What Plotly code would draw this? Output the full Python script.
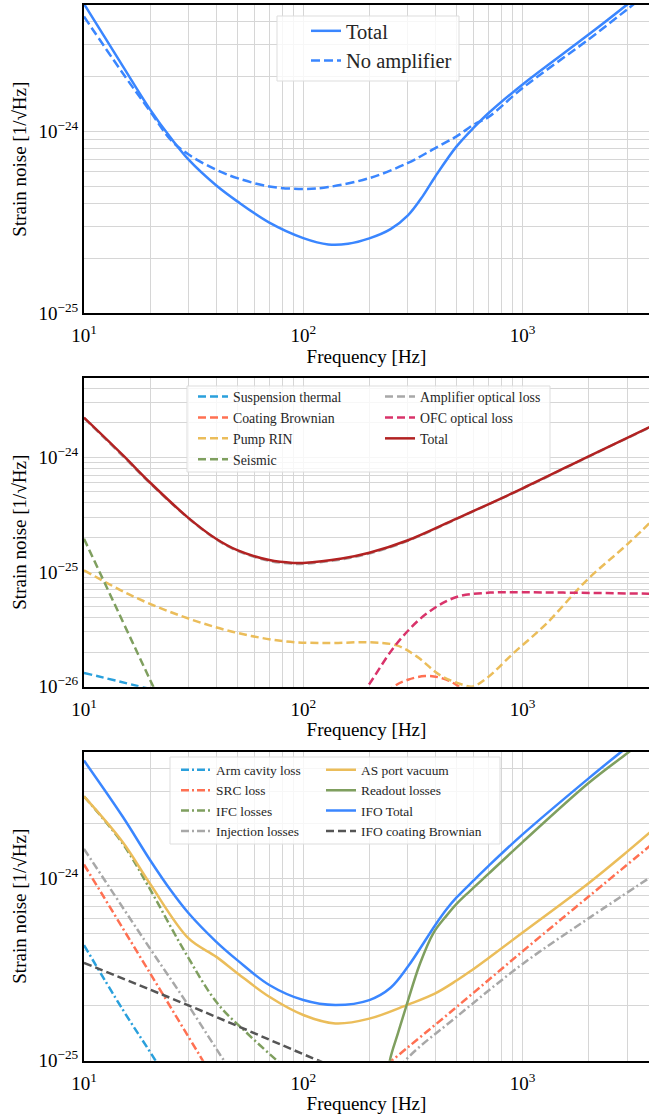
import plotly.graph_objects as go

FONT = "Liberation Serif, DejaVu Serif, Noto Serif, serif"

# ---------------- Panel 1 ----------------
p1_f_total = [10, 15, 20, 25, 30, 40, 50, 70, 100, 130, 160, 200, 250, 300, 350, 400, 500, 600, 700, 1000, 2000, 3000, 4000]
p1_total = [5.01e-24, 2.29e-24, 1.32e-24, 9.12e-25, 6.98e-25, 5.05e-25, 4.12e-25, 3.15e-25, 2.59e-25, 2.39e-25,
            2.41e-25, 2.58e-25, 2.90e-25, 3.45e-25, 4.39e-25, 5.65e-25, 8.26e-25, 1.05e-24, 1.26e-24, 1.81e-24,
            3.40e-24, 4.98e-24, 6.61e-24]
p1_f_noamp = [10, 15, 20, 25, 30, 40, 50, 70, 100, 130, 200, 300, 400, 500, 600, 700, 1000, 2000, 3000, 4000]
p1_noamp = [4.27e-24, 2.09e-24, 1.29e-24, 8.91e-25, 7.45e-25, 6.15e-25, 5.53e-25, 4.98e-25, 4.82e-25, 4.94e-25,
            5.53e-25, 6.70e-25, 8.09e-25, 9.38e-25, 1.09e-24, 1.20e-24, 1.73e-24, 3.20e-24, 4.68e-24, 6.17e-24]

# ---------------- Panel 2 ----------------
p2_f_susp = [10, 20, 30]
p2_susp = [1.32e-26, 9.55e-27, 7.9e-27]
p2_f_coat = [200, 258, 300, 359, 420, 500, 600]
p2_coat = [6.3e-27, 1.0e-26, 1.15e-26, 1.24e-26, 1.20e-26, 1.035e-26, 7.6e-27]
p2_f_pump = [10, 17, 28.5, 48, 82, 132, 198, 267, 330, 420, 537, 590, 684, 906, 1285, 1960, 3000, 4000]
p2_pump = [1.035e-25, 6.05e-26, 4.06e-26, 3.00e-26, 2.49e-26, 2.40e-26, 2.44e-26, 2.29e-26, 1.83e-26, 1.26e-26,
           1.035e-26, 1.00e-26, 1.18e-26, 1.95e-26, 3.55e-26, 8.47e-26, 1.74e-25, 2.95e-25]
p2_f_seis = [10, 15, 20, 25]
p2_seis = [1.95e-25, 3.72e-26, 1.15e-26, 4.6e-27]
p2_f_total = [10, 15, 20, 30, 40, 50, 70, 90, 100, 150, 200, 300, 500, 1000, 2000, 3000, 4000]
p2_amp = [2.20e-24, 1.03e-24, 5.95e-25, 2.93e-25, 1.93e-25, 1.53e-25, 1.25e-25, 1.18e-25, 1.18e-25, 1.29e-25,
          1.45e-25, 1.87e-25, 2.90e-25, 5.33e-25, 1.015e-24, 1.47e-24, 1.91e-24]
p2_total = [2.22e-24, 1.05e-24, 6.03e-25, 2.95e-25, 1.95e-25, 1.55e-25, 1.27e-25, 1.20e-25, 1.20e-25, 1.31e-25,
            1.47e-25, 1.89e-25, 2.92e-25, 5.36e-25, 1.02e-24, 1.48e-24, 1.92e-24]
p2_f_ofc = [150, 201, 267, 365, 500, 710, 1000, 1531, 4000]
p2_ofc = [4.7e-27, 1.07e-26, 2.38e-26, 4.34e-26, 6.05e-26, 6.61e-26, 6.65e-26, 6.61e-26, 6.46e-26]

# ---------------- Panel 3 ----------------
p3_f_arm = [10, 15, 21.2, 30]
p3_arm = [4.30e-25, 1.91e-25, 1.0e-25, 5.0e-26]
p3_f_src = [10, 20, 34, 45, 70, 100, 150, 200, 253, 500, 1000, 2000, 4000]
p3_src = [1.19e-24, 3.02e-25, 1.05e-25, 6.0e-26, 3.5e-26, 3.2e-26, 4.5e-26, 7.9e-26, 1.0e-25, 1.97e-25,
          3.98e-25, 7.94e-25, 1.58e-24]
p3_f_ifc = [10, 15, 20, 28.5, 40.5, 55.6, 76, 100]
p3_ifc = [2.81e-24, 1.55e-24, 8.71e-25, 4.05e-25, 2.07e-25, 1.41e-25, 1.0e-25, 7.6e-26]
p3_f_inj = [10, 20, 30, 43.5, 60, 100, 150, 200, 291, 500, 1000, 2000, 4000]
p3_inj = [1.45e-24, 4.12e-25, 2.0e-25, 1.0e-25, 5.6e-26, 3.2e-26, 3.5e-26, 5.5e-26, 1.0e-25, 1.74e-25,
          3.39e-25, 6.03e-25, 1.05e-24]
p3_f_as = [10, 15, 20, 30, 40, 50, 70, 100, 140, 200, 300, 400, 500, 575, 700, 1000, 2000, 3000, 4000]
p3_as = [2.81e-24, 1.58e-24, 9.33e-25, 4.68e-25, 3.72e-25, 3.02e-25, 2.24e-25, 1.78e-25, 1.60e-25, 1.70e-25,
         2.03e-25, 2.34e-25, 2.75e-25, 3.08e-25, 3.66e-25, 5.04e-25, 9.40e-25, 1.40e-24, 1.88e-24]
p3_f_read = [230, 248, 270, 296, 340, 392, 450, 500, 575, 700, 1000, 2000, 3000, 4000]
p3_read = [5.0e-26, 1.0e-25, 1.41e-25, 2.02e-25, 3.39e-25, 5.01e-25, 6.24e-25, 7.24e-25, 8.51e-25, 1.06e-24,
           1.58e-24, 3.33e-24, 4.85e-24, 6.31e-24]
p3_f_total = [10, 15, 20, 25, 30, 40, 50, 70, 100, 140, 200, 250, 300, 400, 450, 500, 600, 700, 1000, 2000, 3000, 4000]
p3_total = [4.42e-24, 2.18e-24, 1.26e-24, 8.51e-25, 6.43e-25, 4.50e-25, 3.56e-25, 2.60e-25, 2.15e-25, 2.02e-25,
            2.15e-25, 2.51e-25, 3.28e-25, 5.55e-25, 6.76e-25, 7.85e-25, 9.77e-25, 1.17e-24, 1.74e-24, 3.53e-24,
            5.25e-24, 6.92e-24]
p3_f_coat = [10, 35, 120, 150]
p3_coat = [3.44e-25, 1.86e-25, 9.9e-26, 8.9e-26]

# ---------------- Axes ticks ----------------
x_label_vals = [10, 100, 1000]
x_label_text = ["10<sup>1</sup>", "10<sup>2</sup>", "10<sup>3</sup>"]
y_label_vals = [1e-26, 1e-25, 1e-24]
y_label_text = ["10<sup>\u221226</sup>", "10<sup>\u221225</sup>", "10<sup>\u221224</sup>"]
mantissas = [2, 3, 4, 5, 6, 7, 8, 9]


def minor_vals(decades, top_val):
    out = []
    for d in decades:
        for m in mantissas:
            v = m * d
            if v <= top_val:
                out.append(v)
    return out

x_minor = minor_vals(x_label_vals, 4000)

fig = go.Figure()

C_BLUE = "#3a86ff"
DASH = "8px,4px"
DASHDOT = "8px,3px,2px,3px"


def add(x, y, name, color, dash, ax, legend, width=2.5):
    fig.add_trace(go.Scatter(
        x=x, y=y, name=name, mode="lines",
        line=dict(color=color, dash=dash, width=width, shape="spline", smoothing=1.0),
        xaxis="x" + ("" if ax == 1 else str(ax)),
        yaxis="y" + ("" if ax == 1 else str(ax)),
        legend=legend, hoverinfo="skip"))

# panel 1
add(p1_f_total, p1_total, "Total", C_BLUE, "solid", 1, "legend")
add(p1_f_noamp, p1_noamp, "No amplifier", C_BLUE, "9px,4px", 1, "legend")

# panel 2
add(p2_f_susp, p2_susp, "Suspension thermal", "#2aa0dc", DASH, 2, "legend2")
add(p2_f_coat, p2_coat, "Coating Brownian", "#ff7052", DASH, 2, "legend2")
add(p2_f_pump, p2_pump, "Pump RIN", "#ebbd5a", DASH, 2, "legend2")
add(p2_f_seis, p2_seis, "Seismic", "#7f9f5f", DASH, 2, "legend2")
add(p2_f_total, p2_amp, "Amplifier optical loss", "#a8a8a8", DASH, 2, "legend3")
add(p2_f_ofc, p2_ofc, "OFC optical loss", "#d9336a", DASH, 2, "legend3")
add(p2_f_total, p2_total, "Total", "#b22222", "solid", 2, "legend3")

# panel 3
add(p3_f_arm, p3_arm, "Arm cavity loss", "#2aa0dc", DASHDOT, 3, "legend4")
add(p3_f_src, p3_src, "SRC loss", "#ff7052", DASHDOT, 3, "legend4")
add(p3_f_ifc, p3_ifc, "IFC losses", "#7f9f5f", DASHDOT, 3, "legend4")
add(p3_f_inj, p3_inj, "Injection losses", "#a8a8a8", DASHDOT, 3, "legend4")
add(p3_f_as, p3_as, "AS port vacuum", "#ebbd5a", "solid", 3, "legend5")
add(p3_f_read, p3_read, "Readout losses", "#7f9f5f", "solid", 3, "legend5")
add(p3_f_total, p3_total, "IFO Total", C_BLUE, "solid", 3, "legend5")
add(p3_f_coat, p3_coat, "IFO coating Brownian", "#555555", DASH, 3, "legend5")

# ---------------- Layout ----------------
W, H = 649, 1119
ML, MR, MT, MB = 84, 0, 5, 58
PH = H - MT - MB
PW = W - ML - MR


def py(px):
    return (H - MB - px) / PH


def pxx(px):
    return (px - ML) / PW

panel_px = [(5, 313.3), (377.7, 686.7), (751.7, 1060.7)]
y_ranges = [[-25, -23.306], [-26, -23.306], [-25, -23.306]]
X_RANGE = [1, 3.5764]

tick_font = dict(family=FONT, size=19, color="black")
title_font = dict(family=FONT, size=19, color="black")
GRID = "#d6d6d6"

layout = dict(
    width=W, height=H,
    margin=dict(l=ML, r=MR, t=MT, b=MB, pad=0),
    paper_bgcolor="white", plot_bgcolor="white",
    font=dict(family=FONT, color="black"),
    showlegend=True,
)

for i, ((top, bot), yr) in enumerate(zip(panel_px, y_ranges), start=1):
    sfx = "" if i == 1 else str(i)
    top_val = 10 ** yr[1]
    lo_val = 10 ** yr[0] * 0.999
    yv = [v for v in y_label_vals if v >= lo_val]
    yt = [t for v, t in zip(y_label_vals, y_label_text) if v >= lo_val]
    y_minor = minor_vals(yv, top_val)
    layout["xaxis" + sfx] = dict(
        type="log", range=X_RANGE, domain=[0, 1], anchor="y" + sfx,
        showline=True, mirror=True, linecolor="black", linewidth=2,
        showgrid=True, gridcolor=GRID, gridwidth=1, zeroline=False,
        ticks="", tickmode="array", tickvals=x_label_vals, ticktext=x_label_text,
        minor=dict(tickmode="array", tickvals=x_minor, showgrid=True, gridcolor=GRID, gridwidth=1, ticks=""),
        tickfont=tick_font, ticklabelstandoff=4,
        title=dict(text="Frequency [Hz]", font=title_font, standoff=2),
    )
    layout["yaxis" + sfx] = dict(
        type="log", range=yr, domain=[py(bot), py(top)], anchor="x" + sfx,
        showline=True, mirror=False, linecolor="black", linewidth=2,
        showgrid=True, gridcolor=GRID, gridwidth=1, zeroline=False,
        ticks="", tickmode="array", tickvals=yv, ticktext=yt,
        minor=dict(tickmode="array", tickvals=y_minor, showgrid=True, gridcolor=GRID, gridwidth=1, ticks=""),
        tickfont=tick_font,
        title=dict(text="Strain noise [1/\u221aHz]", font=title_font, standoff=7),
    )

leg_common = dict(bgcolor="rgba(0,0,0,0)", borderwidth=0, xanchor="left", yanchor="top",
                  orientation="v", traceorder="normal")
LEG_C = "#262626"
layout["legend"] = dict(leg_common, x=pxx(306), y=py(11), font=dict(family=FONT, size=20.5, color=LEG_C))
layout["legend2"] = dict(leg_common, x=pxx(193), y=py(381), font=dict(family=FONT, size=13.8, color=LEG_C))
layout["legend3"] = dict(leg_common, x=pxx(380), y=py(381), font=dict(family=FONT, size=13.8, color=LEG_C))
layout["legend4"] = dict(leg_common, x=pxx(176), y=py(754.5), font=dict(family=FONT, size=13.4, color=LEG_C))
layout["legend5"] = dict(leg_common, x=pxx(321), y=py(754.5), font=dict(family=FONT, size=13.4, color=LEG_C))

boxes = [(277, 16, 459, 81), (187, 386, 550, 472), (170, 757, 500, 844)]
shapes = []
for x0, y0, x1, y1 in boxes:
    shapes.append(dict(type="rect", xref="paper", yref="paper",
                       x0=pxx(x0), x1=pxx(x1), y0=py(y1), y1=py(y0),
                       fillcolor="rgba(255,255,255,0.8)", line=dict(color="#dddddd", width=1),
                       layer="above"))
layout["shapes"] = shapes

fig.update_layout(**layout)
fig.write_html("out.html", config={"displayModeBar": False},
               post_script="document.body.style.margin='0px';document.body.style.overflow='hidden';")
